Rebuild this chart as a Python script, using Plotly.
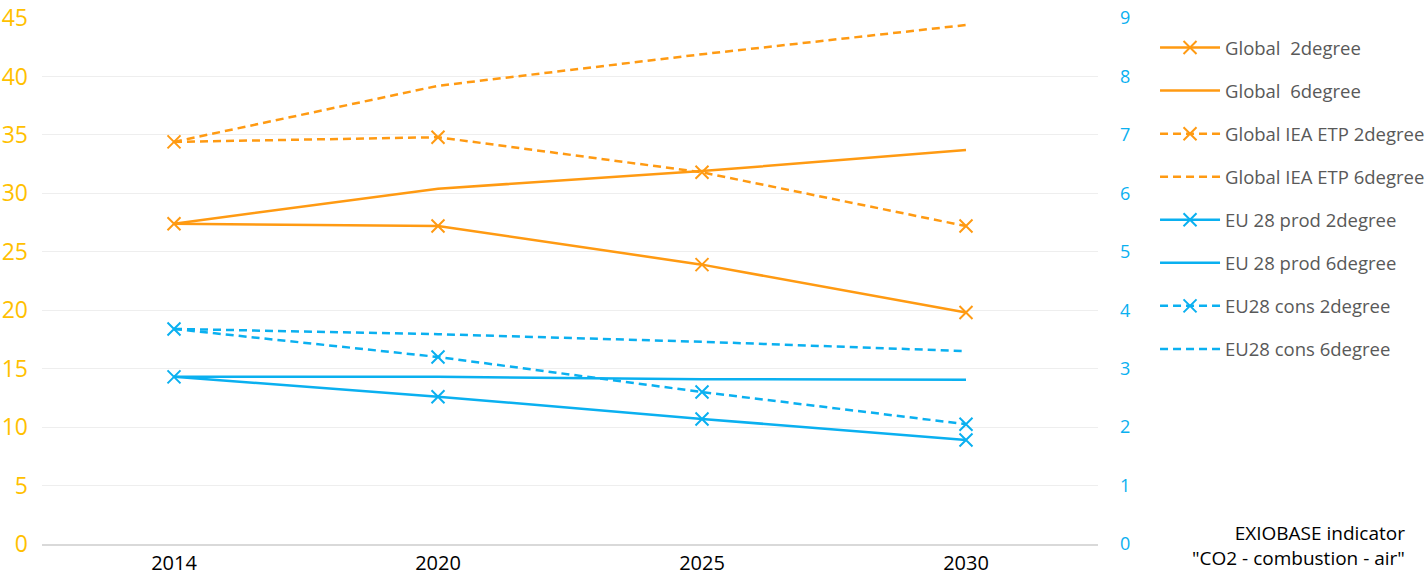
import plotly.graph_objects as go

years = ["2014", "2020", "2025", "2030"]

global_2deg = [27.4, 27.2, 23.9, 19.8]
global_6deg = [27.4, 30.4, 31.9, 33.7]
iea_2deg = [34.4, 34.8, 31.8, 27.2]
iea_6deg = [34.4, 39.2, 41.9, 44.4]

eu_prod_2deg = [2.86, 2.52, 2.14, 1.78]
eu_prod_6deg = [2.86, 2.86, 2.82, 2.81]
eu_cons_2deg = [3.68, 3.20, 2.60, 2.05]
eu_cons_6deg = [3.68, 3.59, 3.46, 3.30]

ORANGE = "#FF9A12"
BLUE = "#0AB0F0"
FONT = "Open Sans"

series = [
    ("Global  2degree", global_2deg, ORANGE, "solid", True, "y"),
    ("Global  6degree", global_6deg, ORANGE, "solid", False, "y"),
    ("Global IEA ETP 2degree", iea_2deg, ORANGE, "8px,5px", True, "y"),
    ("Global IEA ETP 6degree", iea_6deg, ORANGE, "8px,5px", False, "y"),
    ("EU 28 prod 2degree", eu_prod_2deg, BLUE, "solid", True, "y2"),
    ("EU 28 prod 6degree", eu_prod_6deg, BLUE, "solid", False, "y2"),
    ("EU28 cons 2degree", eu_cons_2deg, BLUE, "8px,5px", True, "y2"),
    ("EU28 cons 6degree", eu_cons_6deg, BLUE, "8px,5px", False, "y2"),
]

fig = go.Figure()
for i, (name, vals, col, dash, mark, ax) in enumerate(series):
    fig.add_trace(go.Scatter(
        x=years, y=vals, name=name, yaxis=ax,
        mode="lines+markers" if mark else "lines",
        line=dict(color=col, width=2.5, dash=dash),
        marker=dict(symbol="x-thin", size=13, line=dict(color=col, width=2)),
        legendgroup=f"g{i}",
    ))

fig.update_layout(
    width=1427, height=587,
    margin=dict(l=42, r=329, t=18, b=43, autoexpand=False),
    plot_bgcolor="white", paper_bgcolor="white",
    font=dict(family=FONT, size=17, color="#595959"),
    showlegend=True,
    legend=dict(x=1.054, xanchor="left", y=0.979, yanchor="top",
                tracegroupgap=16, font=dict(size=18.5, color="#595959"),
                itemwidth=60, bgcolor="rgba(0,0,0,0)"),
    xaxis=dict(type="category", range=[-0.5, 3.5], showgrid=False,
               ticks="", showline=True, linecolor="#D9D9D9", linewidth=1.5,
               automargin=False,
               tickfont=dict(size=20, color="black", family=FONT)),
    yaxis=dict(range=[0, 45], dtick=5, showgrid=True, gridcolor="#EEEEEE",
               gridwidth=1, zeroline=False, ticks="", automargin=False,
               tickfont=dict(size=23, color="#FFC000", family=FONT),
               ticklabelstandoff=13),
    yaxis2=dict(range=[0, 9], dtick=1, overlaying="y", side="right",
                showgrid=False, zeroline=False, ticks="", automargin=False,
                tickfont=dict(size=18, color="#0AB0F0", family=FONT),
                ticklabelstandoff=21),
    annotations=[dict(
        xref="paper", yref="paper", x=1.293, y=-0.056, xanchor="right",
        yanchor="bottom", align="right", showarrow=False,
        text="EXIOBASE indicator<br>\"CO2 - combustion - air\"",
        font=dict(size=19, color="black", family=FONT))],
)

fig.write_html("out.html", config={"displayModeBar": False},
               post_script="document.body.style.margin='0';document.body.style.overflow='hidden';")
